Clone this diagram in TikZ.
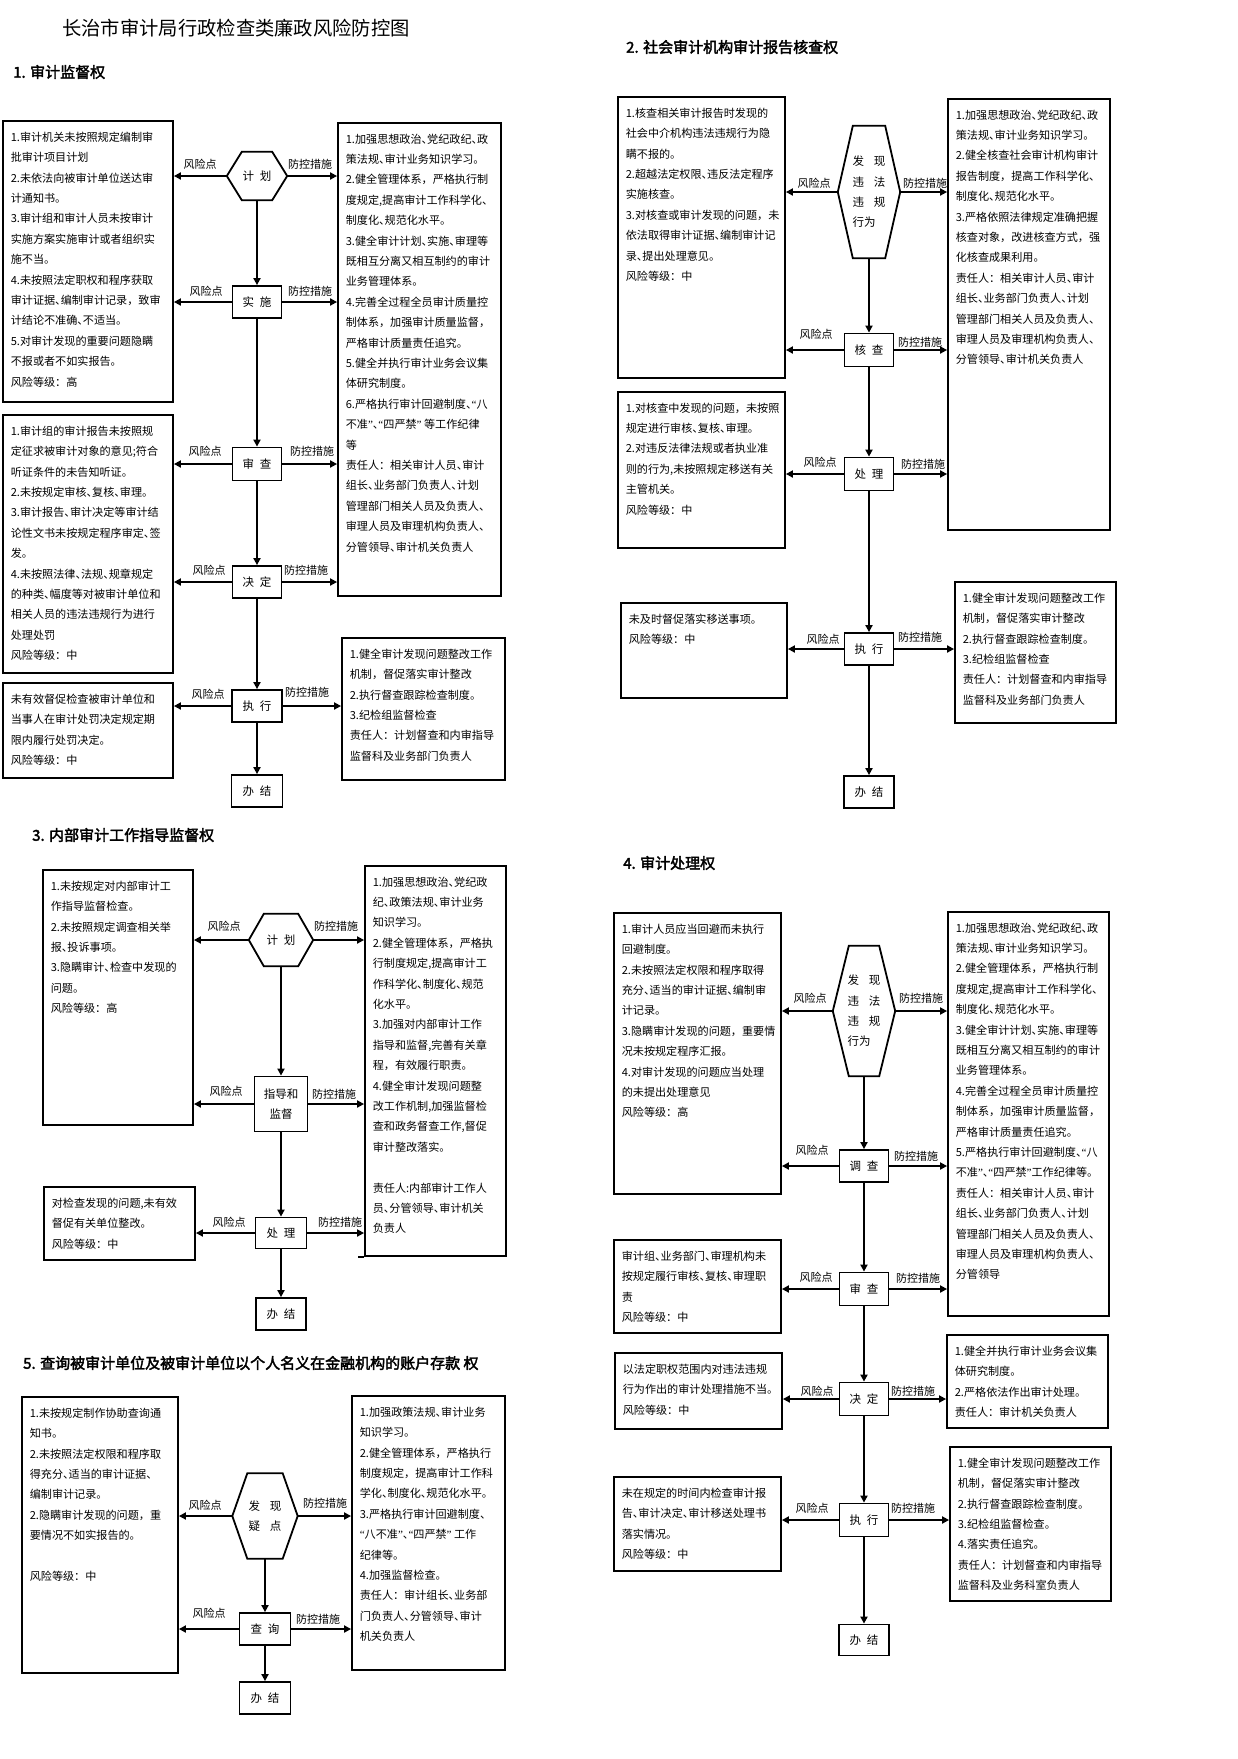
\documentclass[tikz,border=0pt]{standalone}
\usepackage{fontspec}
\newfontfamily\cjk{Noto Sans CJK SC}
\newfontfamily\cjkt[RawFeature=+halt]{Noto Sans CJK SC}
\newfontfamily\cjkb[FakeBold=2.5]{Noto Sans CJK SC}
\newfontfamily\qfont{Liberation Serif}
\newcommand\qo{{\qfont “}}
\newcommand\qc{{\qfont ”}}
\catcode`、=\active
\def、{{\cjkt\symbol{"3001}}}
\usetikzlibrary{arrows.meta,fit}
\tikzset{
  box/.style={draw, line width=1.8pt, inner sep=0pt},
  txt/.style={font=\cjk\fontsize{11.1}{20.4}\selectfont, align=left, inner sep=0pt, anchor=north west},
  lbl/.style={font=\cjk\fontsize{11}{12}\selectfont, inner sep=0pt},
  stepbox/.style={draw, line width=1.8pt, minimum width=49pt, minimum height=32pt, inner sep=0pt, font=\cjk\fontsize{11.5}{14}\selectfont},
  hexnode/.style={inner sep=0pt, align=left, font=\cjk\fontsize{11.5}{20.4}\selectfont},
  hexline/.style={line width=1.8pt, line join=miter},
  arr/.style={line width=2.5pt, -{Triangle[length=7pt,width=7pt]}},
  head/.style={font=\cjkb\fontsize{15}{16}\selectfont, inner sep=0pt, anchor=west},
}
\newcommand\RiskBox[6]{%
  \node[box, fit={(#2,#3) (#4,#5)}] (#1) {};
  \node[txt] (#1t) at ([xshift=8.5pt,yshift=-11.5pt]#1.north west) {#6};}
\newcommand\hexdraw[2]{%
  \draw[hexline] (#1.west) -- ([xshift=#2pt]#1.north west) -- ([xshift=-#2pt]#1.north east) -- (#1.east) -- ([xshift=-#2pt]#1.south east) -- ([xshift=#2pt]#1.south west) -- cycle;}
\begin{document}
\begin{tikzpicture}[x=1pt,y=-1pt]
\fill[white] (0,0) rectangle (1237,1759);
\useasboundingbox (0,0) rectangle (1237,1759);

\node[font=\cjk\fontsize{19.3}{20}\selectfont, inner sep=0pt] (title) at (236,28) {长治市审计局行政检查类廉政风险防控图};

%% ================= Section 1 =================
\node[head] (h1) at (13,72) {1. 审计监督权};
\RiskBox{L1a}{3}{121}{173}{402}{1.审计机关未按照规定编制审\\批审计项目计划\\2.未依法向被审计单位送达审\\计通知书。\\3.审计组和审计人员未按审计\\实施方案实施审计或者组织实\\施不当。\\4.未按照法定职权和程序获取\\审计证据、编制审计记录，致审\\计结论不准确、不适当。\\5.对审计发现的重要问题隐瞒\\不报或者不如实报告。\\风险等级：高}
\RiskBox{L1b}{3}{415}{173}{673}{1.审计组的审计报告未按照规\\定征求被审计对象的意见;符合\\听证条件的未告知听证。\\2.未按规定审核、复核、审理。\\3.审计报告、审计决定等审计结\\论性文书未按规定程序审定、签\\发。\\4.未按照法律、法规、规章规定\\的种类、幅度等对被审计单位和\\相关人员的违法违规行为进行\\处理处罚\\风险等级：中}
\RiskBox{L1c}{3}{683}{173}{778}{未有效督促检查被审计单位和\\当事人在审计处罚决定规定期\\限内履行处罚决定。\\风险等级：中}
\RiskBox{R1a}{338}{123}{501}{596}{1.加强思想政治、党纪政纪、政\\策法规、审计业务知识学习。\\2.健全管理体系，严格执行制\\度规定,提高审计工作科学化、\\制度化、规范化水平。\\3.健全审计计划、实施、审理等\\既相互分离又相互制约的审计\\业务管理体系。\\4.完善全过程全员审计质量控\\制体系，加强审计质量监督，\\严格审计质量责任追究。\\5.健全并执行审计业务会议集\\体研究制度。\\6.严格执行审计回避制度、\qo 八\\不准\qc 、\qo 四严禁\qc\ 等工作纪律\\等\\责任人：相关审计人员、审计\\组长、业务部门负责人、计划\\管理部门相关人员及负责人、\\审理人员及审理机构负责人、\\分管领导、审计机关负责人}
\RiskBox{R1b}{342}{638}{505}{780}{1.健全审计发现问题整改工作\\机制，督促落实审计整改\\2.执行督查跟踪检查制度。\\3.纪检组监督检查\\责任人：计划督查和内审指导\\监督科及业务部门负责人}

\node[hexnode, minimum width=60pt, minimum height=48pt] (H1) at (257,176) {计\hspace{.5em}划};
\hexdraw{H1}{15}
\node[stepbox] (S1a) at (257,302) {实\hspace{.5em}施};
\node[stepbox, minimum height=33pt] (S1b) at (257,464) {审\hspace{.5em}查};
\node[stepbox] (S1c) at (257,582) {决\hspace{.5em}定};
\node[stepbox, minimum width=50pt] (S1d) at (257,706) {执\hspace{.5em}行};
\node[stepbox, minimum width=51pt] (S1e) at (257,791) {办\hspace{.5em}结};
\draw[arr] (H1.south) -- (S1a.north);
\draw[arr] (S1a.south) -- (S1b.north);
\draw[arr] (S1b.south) -- (S1c.north);
\draw[arr] (S1c.south) -- (S1d.north);
\draw[arr] (S1d.south) -- (S1e.north);
\draw[arr] (H1.west) -- (H1.west -| L1a.east);
\draw[arr] (S1a.west) -- (S1a.west -| L1a.east);
\draw[arr] (S1b.west) -- (S1b.west -| L1b.east);
\draw[arr] (S1c.west) -- (S1c.west -| L1b.east);
\draw[arr] (S1d.west) -- (S1d.west -| L1c.east);
\draw[arr] (H1.east) -- (H1.east -| R1a.west);
\draw[arr] (S1a.east) -- (S1a.east -| R1a.west);
\draw[arr] (S1b.east) -- (S1b.east -| R1a.west);
\draw[arr] (S1c.east) -- (S1c.east -| R1a.west);
\draw[arr] (S1d.east) -- (S1d.east -| R1b.west);
\node[lbl] (f1a) at (200,164) {风险点};
\node[lbl] (f1b) at (206,291) {风险点};
\node[lbl] (f1c) at (205,451) {风险点};
\node[lbl] (f1d) at (209,570) {风险点};
\node[lbl] (f1e) at (208,694) {风险点};
\node[lbl] (p1a) at (310,164) {防控措施};
\node[lbl] (p1b) at (310,291) {防控措施};
\node[lbl] (p1c) at (312,451) {防控措施};
\node[lbl] (p1d) at (306,570) {防控措施};
\node[lbl] (p1e) at (307,692) {防控措施};

%% ================= Section 2 =================
\node[head] (h2) at (626,47) {2. 社会审计机构审计报告核查权};
\RiskBox{L2a}{618}{97}{785}{378}{1.核查相关审计报告时发现的\\社会中介机构违法违规行为隐\\瞒不报的。\\2.超越法定权限、违反法定程序\\实施核查。\\3.对核查或审计发现的问题，未\\依法取得审计证据、编制审计记\\录、提出处理意见。\\风险等级：中}
\RiskBox{L2b}{618}{392}{785}{548}{1.对核查中发现的问题，未按照\\规定进行审核、复核、审理。\\2.对违反法律法规或者执业准\\则的行为,未按照规定移送有关\\主管机关。\\风险等级：中}
\RiskBox{L2c}{621}{603}{787}{698}{未及时督促落实移送事项。\\风险等级：中}
\RiskBox{R2a}{948}{99}{1110}{530}{1.加强思想政治、党纪政纪、政\\策法规、审计业务知识学习。\\2.健全核查社会审计机构审计\\报告制度，提高工作科学化、\\制度化、规范化水平。\\3.严格依照法律规定准确把握\\核查对象，改进核查方式，强\\化核查成果利用。\\责任人：相关审计人员、审计\\组长、业务部门负责人、计划\\管理部门相关人员及负责人、\\审理人员及审理机构负责人、\\分管领导、审计机关负责人}
\RiskBox{R2b}{955}{582}{1116}{723}{1.健全审计发现问题整改工作\\机制，督促落实审计整改\\2.执行督查跟踪检查制度。\\3.纪检组监督检查\\责任人：计划督查和内审指导\\监督科及业务部门负责人}

\node[hexnode, minimum width=62pt, minimum height=132pt] (H2) at (869,192) {发\hspace{.85em}现\\违\hspace{.85em}法\\违\hspace{.85em}规\\行为};
\hexdraw{H2}{15}
\node[stepbox, minimum height=33pt] (S2a) at (869,350) {核\hspace{.5em}查};
\node[stepbox, minimum height=33pt] (S2b) at (869,474) {处\hspace{.5em}理};
\node[stepbox] (S2c) at (869,649) {执\hspace{.5em}行};
\node[stepbox, minimum width=50pt] (S2d) at (869,792) {办\hspace{.5em}结};
\draw[arr] (H2.south) -- (S2a.north);
\draw[arr] (S2a.south) -- (S2b.north);
\draw[arr] (S2b.south) -- (S2c.north);
\draw[arr] (S2c.south) -- (S2d.north);
\draw[arr] (H2.west) -- (H2.west -| L2a.east);
\draw[arr] (S2a.west) -- (S2a.west -| L2a.east);
\draw[arr] (S2b.west) -- (S2b.west -| L2b.east);
\draw[arr] (S2c.west) -- (S2c.west -| L2c.east);
\draw[arr] (H2.east) -- (H2.east -| R2a.west);
\draw[arr] (S2a.east) -- (S2a.east -| R2a.west);
\draw[arr] (S2b.east) -- (S2b.east -| R2a.west);
\draw[arr] (S2c.east) -- (S2c.east -| R2b.west);
\node[lbl] (f2a) at (814,183) {风险点};
\node[lbl] (f2b) at (816,334) {风险点};
\node[lbl] (f2c) at (820,462) {风险点};
\node[lbl] (f2d) at (823,639) {风险点};
\node[lbl] (p2a) at (925,183) {防控措施};
\node[lbl] (p2b) at (920,342) {防控措施};
\node[lbl] (p2c) at (923,464) {防控措施};
\node[lbl] (p2d) at (920,637) {防控措施};

%% ================= Section 3 =================
\node[head] (h3) at (32,835) {3. 内部审计工作指导监督权};
\RiskBox{L3a}{43}{870}{193}{1125}{1.未按规定对内部审计工\\作指导监督检查。\\2.未按照规定调查相关举\\报、投诉事项。\\3.隐瞒审计、检查中发现的\\问题。\\风险等级：高}
\RiskBox{L3b}{44}{1187}{195}{1260}{对检查发现的问题,未有效\\督促有关单位整改。\\风险等级：中}
\RiskBox{R3}{365}{866}{506}{1256}{1.加强思想政治、党纪政\\纪、政策法规、审计业务\\知识学习。\\2.健全管理体系，严格执\\行制度规定,提高审计工\\作科学化、制度化、规范\\化水平。\\3.加强对内部审计工作\\指导和监督,完善有关章\\程，有效履行职责。\\4.健全审计发现问题整\\改工作机制,加强监督检\\查和政务督查工作,督促\\审计整改落实。\\[20.4pt]责任人:内部审计工作人\\员、分管领导、审计机关\\负责人}
\draw[line width=1.8pt] (R3.south west) -- ++(-6,0);

\node[hexnode, minimum width=64pt, minimum height=52pt] (H3) at (281,940) {计\hspace{.5em}划};
\hexdraw{H3}{15}
\node[stepbox, minimum width=53pt, minimum height=55pt, align=center, font=\cjk\fontsize{11.5}{20}\selectfont] (S3a) at (281,1104) {指导和\\监督};
\node[stepbox, minimum width=51pt, minimum height=31pt] (S3b) at (281,1233) {处\hspace{.5em}理};
\node[stepbox, minimum width=50pt] (S3c) at (281,1314) {办\hspace{.5em}结};
\draw[arr] (H3.south) -- (S3a.north);
\draw[arr] (S3a.south) -- (S3b.north);
\draw[arr] (S3b.south) -- (S3c.north);
\draw[arr] (H3.west) -- (H3.west -| L3a.east);
\draw[arr] (S3a.west) -- (S3a.west -| L3a.east);
\draw[arr] (S3b.west) -- (S3b.west -| L3b.east);
\draw[arr] (H3.east) -- (H3.east -| R3.west);
\draw[arr] (S3a.east) -- (S3a.east -| R3.west);
\draw[arr] (S3b.east) -- (S3b.east -| R3.west);
\node[lbl] (f3a) at (224,926) {风险点};
\node[lbl] (f3b) at (226,1091) {风险点};
\node[lbl] (f3c) at (229,1222) {风险点};
\node[lbl] (p3a) at (336,926) {防控措施};
\node[lbl] (p3b) at (334,1094) {防控措施};
\node[lbl] (p3c) at (340,1222) {防控措施};

%% ================= Section 4 =================
\node[head] (h4) at (623,863) {4. 审计处理权};
\RiskBox{L4a}{614}{913}{781}{1194}{1.审计人员应当回避而未执行\\回避制度。\\2.未按照法定权限和程序取得\\充分、适当的审计证据、编制审\\计记录。\\3.隐瞒审计发现的问题，重要情\\况未按规定程序汇报。\\4.对审计发现的问题应当处理\\的未提出处理意见\\风险等级：高}
\RiskBox{L4b}{614}{1240}{781}{1333}{审计组、业务部门、审理机构未\\按规定履行审核、复核、审理职\\责\\风险等级：中}
\RiskBox{L4c}{615}{1353}{782}{1429}{以法定职权范围内对违法违规\\行为作出的审计处理措施不当。\\风险等级：中}
\RiskBox{L4d}{614}{1477}{781}{1571}{未在规定的时间内检查审计报\\告、审计决定、审计移送处理书\\落实情况。\\风险等级：中}
\RiskBox{R4a}{948}{912}{1109}{1316}{1.加强思想政治、党纪政纪、政\\策法规、审计业务知识学习。\\2.健全管理体系，严格执行制\\度规定,提高审计工作科学化、\\制度化、规范化水平。\\3.健全审计计划、实施、审理等\\既相互分离又相互制约的审计\\业务管理体系。\\4.完善全过程全员审计质量控\\制体系，加强审计质量监督，\\严格审计质量责任追究。\\5.严格执行审计回避制度、\qo 八\\不准\qc 、\qo 四严禁\qc 工作纪律等。\\责任人：相关审计人员、审计\\组长、业务部门负责人、计划\\管理部门相关人员及负责人、\\审理人员及审理机构负责人、\\分管领导}
\RiskBox{R4b}{947}{1335}{1108}{1428}{1.健全并执行审计业务会议集\\体研究制度。\\2.严格依法作出审计处理。\\责任人：审计机关负责人}
\RiskBox{R4c}{950}{1447}{1111}{1601}{1.健全审计发现问题整改工作\\机制，督促落实审计整改\\2.执行督查跟踪检查制度。\\3.纪检组监督检查。\\4.落实责任追究。\\责任人：计划督查和内审指导\\监督科及业务科室负责人}

\node[hexnode, minimum width=62pt, minimum height=130pt] (H4) at (864,1011) {发\hspace{.85em}现\\违\hspace{.85em}法\\违\hspace{.85em}规\\行为};
\hexdraw{H4}{16}
\node[stepbox, minimum height=32pt] (S4a) at (864,1166) {调\hspace{.5em}查};
\node[stepbox, minimum height=33pt] (S4b) at (864,1289) {审\hspace{.5em}查};
\node[stepbox, minimum height=33pt] (S4c) at (864,1399) {决\hspace{.5em}定};
\node[stepbox, minimum height=33pt] (S4d) at (864,1520) {执\hspace{.5em}行};
\node[stepbox, minimum width=50pt, minimum height=31pt] (S4e) at (864,1640) {办\hspace{.5em}结};
\draw[arr] (H4.south) -- (S4a.north);
\draw[arr] (S4a.south) -- (S4b.north);
\draw[arr] (S4b.south) -- (S4c.north);
\draw[arr] (S4c.south) -- (S4d.north);
\draw[arr] (S4d.south) -- (S4e.north);
\draw[arr] (H4.west) -- (H4.west -| L4a.east);
\draw[arr] (S4a.west) -- (S4a.west -| L4a.east);
\draw[arr] (S4b.west) -- (S4b.west -| L4b.east);
\draw[arr] (S4c.west) -- (S4c.west -| L4c.east);
\draw[arr] (S4d.west) -- (S4d.west -| L4d.east);
\draw[arr] (H4.east) -- (H4.east -| R4a.west);
\draw[arr] (S4a.east) -- (S4a.east -| R4a.west);
\draw[arr] (S4b.east) -- (S4b.east -| R4a.west);
\draw[arr] (S4c.east) -- (S4c.east -| R4b.west);
\draw[arr] (S4d.east) -- (S4d.east -| R4c.west);
\node[lbl] (f4a) at (810,998) {风险点};
\node[lbl] (f4b) at (812,1150) {风险点};
\node[lbl] (f4c) at (816,1277) {风险点};
\node[lbl] (f4d) at (817,1391) {风险点};
\node[lbl] (f4e) at (812,1508) {风险点};
\node[lbl] (p4a) at (921,998) {防控措施};
\node[lbl] (p4b) at (916,1156) {防控措施};
\node[lbl] (p4c) at (918,1278) {防控措施};
\node[lbl] (p4d) at (913,1391) {防控措施};
\node[lbl] (p4e) at (913,1508) {防控措施};

%% ================= Section 5 =================
\node[head] (h5) at (23,1363) {5. 查询被审计单位及被审计单位以个人名义在金融机构的账户存款 权};
\RiskBox{L5}{22}{1397}{178}{1673}{1.未按规定制作协助查询通\\知书。\\2.未按照法定权限和程序取\\得充分、适当的审计证据、\\编制审计记录。\\2.隐瞒审计发现的问题，重\\要情况不如实报告的。\\[20.4pt]风险等级：中}
\RiskBox{R5}{352}{1396}{505}{1670}{1.加强政策法规、审计业务\\知识学习。\\2.健全管理体系，严格执行\\制度规定，提高审计工作科\\学化、制度化、规范化水平。\\3.严格执行审计回避制度、\\\qo 八不准\qc 、\qo 四严禁\qc\ 工作\\纪律等。\\4.加强监督检查。\\责任人：审计组长、业务部\\门负责人、分管领导、审计\\机关负责人}

\node[hexnode, minimum width=65pt, minimum height=85pt] (H5) at (265,1516) {发\hspace{.85em}现\\疑\hspace{.85em}点};
\hexdraw{H5}{15}
\node[stepbox, minimum width=51pt] (S5a) at (265,1629) {查\hspace{.5em}询};
\node[stepbox, minimum width=51pt] (S5b) at (265,1698) {办\hspace{.5em}结};
\draw[arr] (H5.south) -- (S5a.north);
\draw[arr] (S5a.south) -- (S5b.north);
\draw[arr] (H5.west) -- (H5.west -| L5.east);
\draw[arr] (S5a.west) -- (S5a.west -| L5.east);
\draw[arr] (H5.east) -- (H5.east -| R5.west);
\draw[arr] (S5a.east) -- (S5a.east -| R5.west);
\node[lbl] (f5a) at (205,1505) {风险点};
\node[lbl] (f5b) at (209,1613) {风险点};
\node[lbl] (p5a) at (325,1503) {防控措施};
\node[lbl] (p5b) at (318,1619) {防控措施};
\end{tikzpicture}
\end{document}
